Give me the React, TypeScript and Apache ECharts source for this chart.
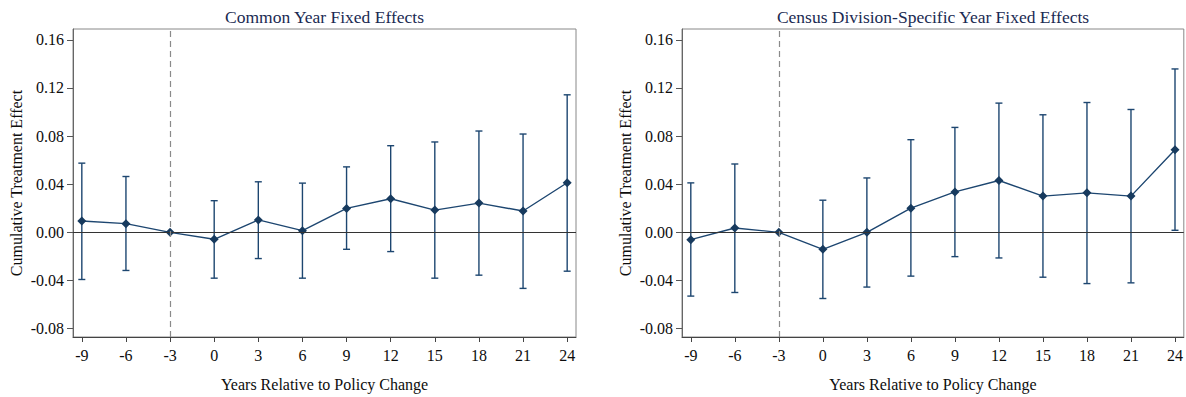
import React, { useEffect, useRef } from "react";
import * as echarts from "echarts";

const years = [-9, -6, -3, 0, 3, 6, 9, 12, 15, 18, 21, 24];
const commonEst = [0.0094, 0.0072, 0, -0.0058, 0.0103, 0.0014, 0.0199, 0.0279, 0.0185, 0.0243, 0.0177, 0.0412];
const commonLo = [-0.0392, -0.0317, null, -0.0381, -0.0218, -0.0381, -0.0141, -0.016, -0.0381, -0.0356, -0.0466, -0.0323];
const commonHi = [0.0575, 0.0464, null, 0.0263, 0.042, 0.0409, 0.0544, 0.072, 0.0751, 0.0842, 0.0817, 0.1143];
const censusEst = [-0.0061, 0.0036, 0, -0.0141, 0, 0.0201, 0.0336, 0.0431, 0.0301, 0.0328, 0.0301, 0.0687];
const censusLo = [-0.053, -0.05, null, -0.055, -0.0455, -0.0364, -0.0202, -0.0213, -0.0373, -0.0426, -0.042, 0.0017];
const censusHi = [0.0411, 0.0568, null, 0.0267, 0.0452, 0.077, 0.0872, 0.1074, 0.0977, 0.1079, 0.1021, 0.1358];
const xTicks = [-9, -6, -3, 0, 3, 6, 9, 12, 15, 18, 21, 24];
const yTicks = [-0.08, -0.04, 0, 0.04, 0.08, 0.12, 0.16];
const titles = ["Common Year Fixed Effects", "Census Division-Specific Year Fixed Effects"];
const xName = "Years Relative to Policy Change";
const yName = "Cumulative Treatment Effect";
const policyYear = -3;

const FONT = "'Liberation Serif', 'DejaVu Serif', serif";
const NAVY = "#1d4670";
const MARK = "#173a5e";
const TEXT = "#0d0d0d";

export default function App() {
  const ref = useRef<HTMLDivElement>(null);
  useEffect(() => {
    if (!ref.current) return;
    const chart = echarts.init(ref.current, undefined, { renderer: "svg" });
    const grids = [
      { left: 73, top: 29, width: 503, height: 309 },
      { left: 682, top: 29, width: 502, height: 309 },
    ];
    const panels = [
      { est: commonEst, lo: commonLo, hi: commonHi },
      { est: censusEst, lo: censusLo, hi: censusHi },
    ];
    const xAxes = grids.map((_, i) => ({
      type: "value",
      gridIndex: i,
      min: -9.6,
      max: 24.6,
      name: xName,
      nameLocation: "middle",
      nameGap: 39,
      nameTextStyle: { fontFamily: FONT, fontSize: 16, color: TEXT },
      axisLine: { show: true, onZero: false, lineStyle: { color: "#444", width: 1 } },
      axisTick: { show: true, length: 5, customValues: xTicks, lineStyle: { color: "#444" } },
      axisLabel: {
        customValues: xTicks,
        margin: 10,
        fontFamily: FONT,
        fontSize: 16,
        color: TEXT,
      },
      splitLine: { show: false },
    }));
    const yAxes = grids.map((_, i) => ({
      type: "value",
      gridIndex: i,
      min: -0.087,
      max: 0.169,
      name: yName,
      nameLocation: "middle",
      nameGap: 49,
      nameRotate: 90,
      nameTextStyle: { fontFamily: FONT, fontSize: 16, color: TEXT },
      axisLine: { show: true, onZero: false, lineStyle: { color: "#666", width: 1 } },
      axisTick: { show: true, length: 6, customValues: yTicks, lineStyle: { color: "#555" } },
      axisLabel: {
        customValues: yTicks,
        margin: 9,
        fontFamily: FONT,
        fontSize: 16,
        color: TEXT,
        formatter: (v: number) => v.toFixed(2),
      },
      splitLine: { show: false },
    }));
    const series: any[] = [];
    panels.forEach((p, i) => {
      const ciData = years
        .map((x, k) => (p.lo[k] == null || p.hi[k] == null ? null : [x, p.lo[k], p.hi[k]]))
        .filter((d) => d !== null);
      series.push({
        type: "line",
        xAxisIndex: i,
        yAxisIndex: i,
        data: [],
        silent: true,
        z: 1,
        markLine: {
          silent: true,
          symbol: ["none", "none"],
          label: { show: false },
          data: [
            { yAxis: 0, lineStyle: { color: "#333", width: 1, type: "solid" } },
            { xAxis: policyYear, lineStyle: { color: "#8a8a8a", width: 1.2, type: [6, 4] } },
          ],
        },
      });
      series.push({
        type: "custom",
        xAxisIndex: i,
        yAxisIndex: i,
        z: 2,
        data: ciData,
        renderItem: (params: any, api: any) => {
          const x = api.value(0);
          const lo = api.coord([x, api.value(1)]);
          const hi = api.coord([x, api.value(2)]);
          const cap = 3.5;
          const style = { stroke: NAVY, lineWidth: 1.4 };
          return {
            type: "group",
            children: [
              { type: "line", shape: { x1: lo[0], y1: lo[1], x2: hi[0], y2: hi[1] }, style },
              { type: "line", shape: { x1: lo[0] - cap, y1: lo[1], x2: lo[0] + cap, y2: lo[1] }, style },
              { type: "line", shape: { x1: hi[0] - cap, y1: hi[1], x2: hi[0] + cap, y2: hi[1] }, style },
            ],
          };
        },
      });
      series.push({
        type: "line",
        xAxisIndex: i,
        yAxisIndex: i,
        z: 3,
        data: years.map((x, k) => [x, p.est[k]]),
        symbol: "diamond",
        symbolSize: 9,
        showAllSymbol: true,
        lineStyle: { color: NAVY, width: 1.4 },
        itemStyle: { color: MARK, borderWidth: 0 },
      });
    });
    chart.setOption({
      animation: false,
      backgroundColor: "#ffffff",
      grid: grids.map((g) => ({ ...g, show: true, borderColor: "#888", borderWidth: 1, backgroundColor: "transparent" })),
      xAxis: xAxes,
      yAxis: yAxes,
      series,
      graphic: grids.map((g, i) => ({
        type: "text",
        x: g.left + g.width / 2,
        y: 17,
        style: {
          text: titles[i],
          fontFamily: FONT,
          fontSize: 17.5,
          fill: "#1a2a52",
          textAlign: "center",
          textVerticalAlign: "middle",
        },
      })),
    });
    return () => chart.dispose();
  }, []);
  return (
    <div
      ref={ref}
      style={{ position: "fixed", left: 0, top: 0, width: 1186, height: 397, background: "#fff" }}
    />
  );
}
